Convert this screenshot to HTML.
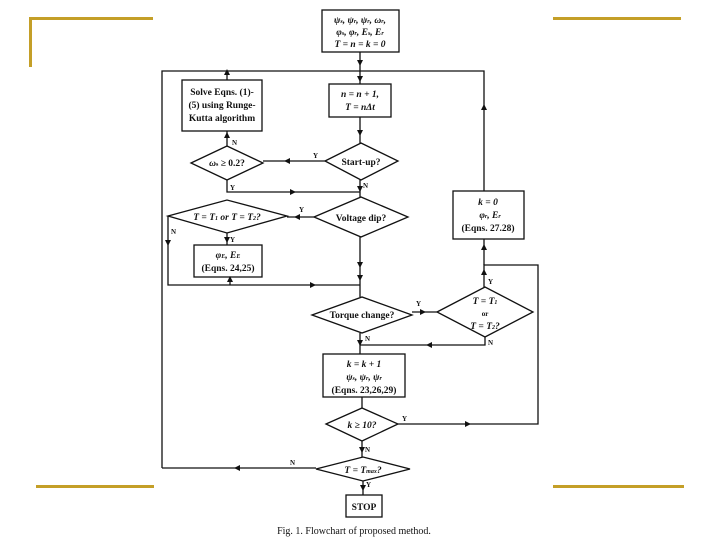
<!DOCTYPE html>
<html><head><meta charset="utf-8"><style>
html,body{margin:0;padding:0;background:#fff;width:720px;height:540px;overflow:hidden}
svg{display:block}
text{font-family:"Liberation Serif",serif;fill:#111}
</style></head><body>
<svg width="720" height="540" viewBox="0 0 720 540" xmlns="http://www.w3.org/2000/svg">
<defs><marker id="a" viewBox="0 0 6 6" refX="3" refY="3" markerWidth="5" markerHeight="5" orient="auto"><path d="M0,0L6,3L0,6z" fill="#111"/></marker></defs>
<g fill="#c49f28">
<rect x="29" y="17" width="124" height="3"/><rect x="29" y="17" width="3" height="50"/>
<rect x="553" y="17" width="128" height="3"/>
<rect x="36" y="485" width="118" height="3"/><rect x="553" y="485" width="131" height="3"/>
</g>
<g stroke="#111" stroke-width="1.3" fill="none">
<!-- boxes -->
<rect x="322" y="10" width="77" height="42"/>
<rect x="329" y="84" width="62" height="33"/>
<rect x="182" y="80" width="80" height="51"/>
<rect x="194" y="245" width="68" height="32"/>
<rect x="453" y="191" width="71" height="48"/>
<rect x="323" y="354" width="82" height="43"/>
<rect x="346" y="495" width="36" height="22"/>
<!-- diamonds -->
<polygon points="325,161 361,143 398,161 361,180"/>
<polygon points="191,163 227,146 263,163 227,180"/>
<polygon points="314,217 361,197 408,217 361,237"/>
<polygon points="168,216 227,200 287,216 227,233"/>
<polygon points="312,315 362,297 412,315 362,333"/>
<polygon points="437,312 485,287 533,312 485,337"/>
<polygon points="326,424 362,408 398,424 362,441"/>
<polygon points="316,469 363,457 410,469 363,481"/>
<!-- main spine -->
<path d="M360,52V84M360,117V143M360,180V197M360,237V297M360,333V354M362,397V408M362,441V457M363,481V495"/>
<!-- loop top -->
<path d="M162,468V71H484V191"/>
<path d="M227,71V80"/>
<!-- startup -> omega -->
<path d="M325,161H263"/>
<path d="M227,146V131"/>
<path d="M227,180V192H360"/>
<!-- voltage dip -> T1 -->
<path d="M314,217H287"/>
<path d="M227,233V245"/>
<path d="M168,216V285H360"/>
<path d="M230,277V285"/>
<!-- torque -> T1 or T2 -->
<path d="M412,312H437"/>
<path d="M485,337V345H360"/>
<path d="M484,287V265H538V424H398"/>
<path d="M484,239V265"/>
<!-- Tmax N -->
<path d="M316,468H162"/>
</g>
<g fill="#111">
<path d="M357,27l3,6l3,-6z" transform="translate(0,33)"/>
<path d="M357,76l3,6l3,-6z"/>
<path d="M357,130l3,6l3,-6z"/>
<path d="M357,186l3,6l3,-6z"/>
<path d="M357,262l3,6l3,-6z"/>
<path d="M357,275l3,6l3,-6z"/>
<path d="M357,340l3,6l3,-6z"/>
<path d="M359,447l3,6l3,-6z"/>
<path d="M360,485l3,6l3,-6z"/>
<path d="M224,75l3,-6l3,6z"/>
<path d="M224,138l3,-6l3,6z"/>
<path d="M290,158l-6,3l6,3z"/>
<path d="M290,189l6,3l-6,3z"/>
<path d="M300,214l-6,3l6,3z"/>
<path d="M224,237l3,6l3,-6z"/>
<path d="M165,240l3,6l3,-6z"/>
<path d="M310,282l6,3l-6,3z"/>
<path d="M227,282l3,-6l3,6z"/>
<path d="M420,309l6,3l-6,3z"/>
<path d="M432,342l-6,3l6,3z"/>
<path d="M481,275l3,-6l3,6z"/>
<path d="M481,250l3,-6l3,6z"/>
<path d="M481,110l3,-6l3,6z"/>
<path d="M465,421l6,3l-6,3z"/>
<path d="M240,465l-6,3l6,3z"/>
</g>
<g font-size="9.5" text-anchor="middle" font-weight="bold">
<text x="360" y="23" font-style="italic">ψ<tspan font-size="6">s</tspan>, ψ<tspan font-size="6">r</tspan>, ψ<tspan font-size="6">r</tspan>, ω<tspan font-size="6">r</tspan>,</text>
<text x="360" y="35" font-style="italic">φ<tspan font-size="6">s</tspan>, φ<tspan font-size="6">r</tspan>, E<tspan font-size="6">s</tspan>, E<tspan font-size="6">r</tspan></text>
<text x="360" y="47" font-style="italic">T = n = k = 0</text>
<text x="360" y="97" font-style="italic">n = n + 1,</text>
<text x="360" y="110" font-style="italic">T = nΔt</text>
<text x="222" y="95">Solve Eqns. (1)-</text>
<text x="222" y="108">(5) using Runge-</text>
<text x="222" y="121">Kutta algorithm</text>
<text x="361" y="165">Start-up?</text>
<text x="227" y="166"><tspan font-style="italic">ω</tspan><tspan font-size="6">s</tspan> ≥ 0.2?</text>
<text x="361" y="221">Voltage dip?</text>
<text x="227" y="220" font-style="italic">T = T<tspan font-size="6">1</tspan> or T = T<tspan font-size="6">2</tspan>?</text>
<text x="228" y="258" font-style="italic">φ<tspan font-size="6">E</tspan>, E<tspan font-size="6">E</tspan></text>
<text x="228" y="271">(Eqns. 24,25)</text>
<text x="488" y="205" font-style="italic">k = 0</text>
<text x="490" y="218" font-style="italic">φ<tspan font-size="6">r</tspan>, E<tspan font-size="6">r</tspan></text>
<text x="488" y="231">(Eqns. 27.28)</text>
<text x="362" y="318">Torque change?</text>
<text x="485" y="304" font-style="italic">T = T<tspan font-size="6">1</tspan></text>
<text x="485" y="316" font-size="7">or</text>
<text x="485" y="329" font-style="italic">T = T<tspan font-size="6">2</tspan>?</text>
<text x="364" y="367" font-style="italic">k = k + 1</text>
<text x="364" y="380" font-style="italic">ψ<tspan font-size="6">s</tspan>, ψ<tspan font-size="6">r</tspan>, ψ<tspan font-size="6">r</tspan></text>
<text x="364" y="393">(Eqns. 23,26,29)</text>
<text x="362" y="428" font-style="italic">k ≥ 10?</text>
<text x="363" y="473" font-style="italic">T = T<tspan font-size="6">max</tspan>?</text>
<text x="364" y="510">STOP</text>
</g>
<g font-size="7" font-weight="bold">
<text x="232" y="145">N</text><text x="313" y="158">Y</text>
<text x="230" y="190">Y</text><text x="363" y="188">N</text>
<text x="299" y="212">Y</text><text x="230" y="242">Y</text><text x="171" y="234">N</text>
<text x="416" y="306">Y</text><text x="365" y="341">N</text><text x="488" y="345">N</text>
<text x="488" y="284">Y</text><text x="402" y="421">Y</text>
<text x="365" y="452">N</text><text x="290" y="465">N</text><text x="366" y="487">Y</text>
</g>
<text x="354" y="534" font-size="10" text-anchor="middle">Fig. 1.   Flowchart of proposed method.</text>
</svg>
</body></html>
